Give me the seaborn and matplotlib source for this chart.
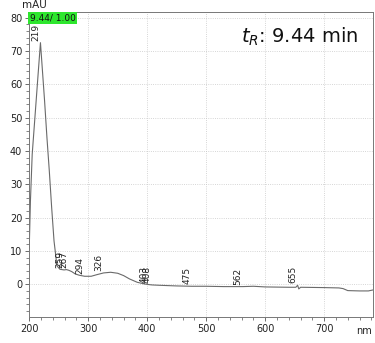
import matplotlib
matplotlib.use("Agg")
import matplotlib.pyplot as plt
import seaborn as sns
import numpy as np
import pandas as pd
from matplotlib.ticker import MultipleLocator

# UV spectrum of the peak at 9.44 min (wavelength in nm, absorbance in mAU)
wavelength = [200, 202, 205, 210, 215, 219, 222, 226, 230, 234, 238, 242, 245, 247,
              252, 259, 263, 267, 272, 278, 285, 294, 305, 315, 326, 338, 350, 360,
              370, 383, 395, 403, 408, 420, 450, 475, 500, 530, 562, 580, 600, 640,
              652, 655, 657, 660, 700, 725, 732, 740, 760, 775, 783]
absorbance = [11.0, 25.0, 39.0, 51.0, 63.0, 72.5, 65.0, 55.0, 44.0, 34.0, 23.0, 13.0, 8.5, 5.5,
              4.5, 4.3, 4.4, 4.2, 3.8, 3.1, 2.7, 2.4, 2.4, 2.9, 3.4, 3.6, 3.3, 2.6,
              1.6, 0.6, 0.1, -0.1, -0.2, -0.3, -0.5, -0.6, -0.6, -0.7, -0.7, -0.6, -0.8, -0.9,
              -0.9, -0.3, -1.4, -0.9, -1.0, -1.1, -1.3, -1.9, -2.0, -2.0, -1.7]

# Annotated maxima (nm)
peak_labels = [219, 259, 267, 294, 326, 403, 408, 475, 562, 655]

retention_time = 9.44
purity_tag = "9.44/ 1.00"
x_ticks = [200, 300, 400, 500, 600, 700]
y_ticks = [0, 10, 20, 30, 40, 50, 60, 70, 80]

sns.set_theme(style="ticks")
plt.rcParams["font.family"] = ["DejaVu Sans"]
plt.rcParams["mathtext.fontset"] = "dejavusans"

df = pd.DataFrame({"nm": wavelength, "mAU": absorbance})

fig = plt.figure(figsize=(3.75, 3.43), dpi=100)
ax = fig.add_axes([0.078, 0.077, 0.917, 0.887])

sns.lineplot(data=df, x="nm", y="mAU", ax=ax, color="#6a6a6a", linewidth=0.8)

ax.set_xlim(200, 783)
ax.set_ylim(-9.7, 81.6)
ax.set_xticks(x_ticks)
ax.set_yticks(y_ticks)
ax.xaxis.set_minor_locator(MultipleLocator(20))
ax.yaxis.set_minor_locator(MultipleLocator(2))
ax.tick_params(axis="both", which="major", direction="out", length=3, width=0.6,
               color="#555555", labelsize=7, labelcolor="#222222", pad=2)
ax.tick_params(axis="both", which="minor", direction="out", length=2, width=0.5,
               color="#555555")
ax.set_xlabel("")
ax.set_ylabel("")
ax.grid(True, which="major", linestyle=":", color="#c8c8c8", linewidth=0.6)
for side in ["left", "bottom", "top", "right"]:
    ax.spines[side].set_visible(True)
    ax.spines[side].set_color("#777777")
    ax.spines[side].set_linewidth(0.7)

# Peak wavelength labels, sitting on the trace
for wl in peak_labels:
    val = float(np.interp(wl, wavelength, absorbance))
    ax.annotate(str(wl), xy=(wl, val), xytext=(0, 1.5), textcoords="offset points",
                rotation=90, ha="right", va="bottom", fontsize=6.5, color="#222222")

# Retention time / purity tag
ax.text(0.002, 0.995, purity_tag, transform=ax.transAxes, ha="left", va="top",
        fontsize=6.5, color="#111111", zorder=10,
        bbox=dict(facecolor="#2ee62e", edgecolor="none", pad=1.2))

ax.text(0.955, 0.955, r"$t_R$: " + f"{retention_time:.2f} min", transform=ax.transAxes,
        ha="right", va="top", fontsize=14, color="#111111")

fig.text(0.058, 0.972, "mAU", ha="left", va="bottom", fontsize=7.5, color="#222222")
fig.text(0.992, 0.035, "nm", ha="right", va="center", fontsize=7, color="#222222")

fig.savefig("out.png", dpi=100)
